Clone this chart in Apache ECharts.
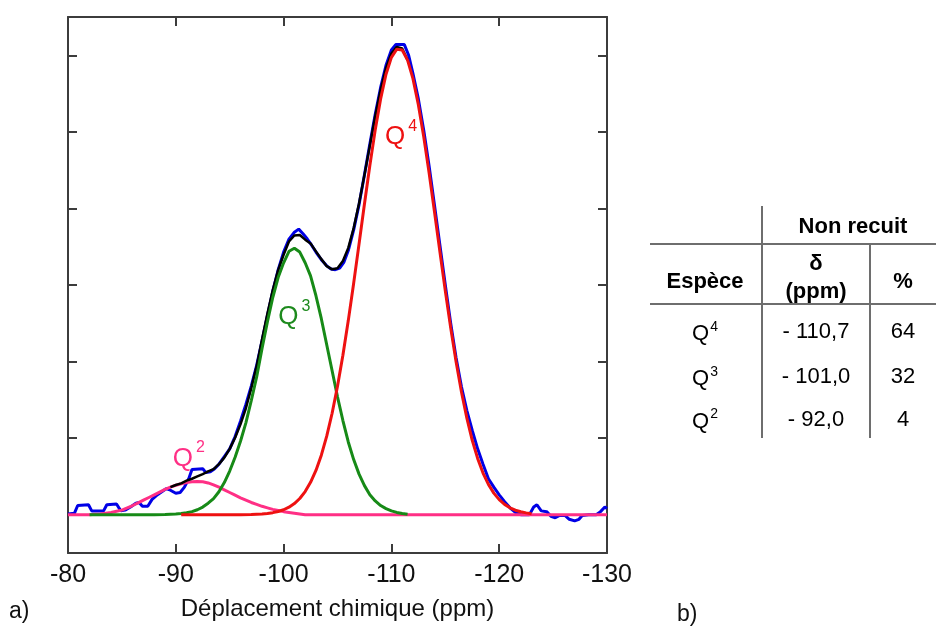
<!DOCTYPE html>
<html><head><meta charset="utf-8">
<script src="https://cdn.jsdelivr.net/npm/echarts@6/dist/echarts.min.js"></script>
<style>html,body{margin:0;padding:0;background:#fff}#c{width:936px;height:626px}</style>
</head><body><div id="c"></div>
<script>
// ---------- data ----------
const xTicks = [-80, -90, -100, -110, -120, -130];
const yTicks = [0, 1, 2, 3, 4, 5, 6];

// experimental spectrum (blue) [ppm, intensity]
const experimental = [
 [-80,0.01],[-80.6,0.02],[-80.9,0.12],[-81.9,0.13],[-82.2,0.05],[-83.3,0.05],[-83.6,0.13],[-84.5,0.14],
 [-84.9,0.05],[-85.3,0.06],[-85.8,0.1],[-86.3,0.15],[-86.6,0.16],[-86.9,0.11],[-87.4,0.11],[-87.8,0.2],
 [-88.2,0.25],[-88.7,0.3],[-89.1,0.34],[-89.5,0.32],[-90.0,0.28],[-90.4,0.29],[-90.8,0.36],[-91.2,0.47],
 [-91.5,0.59],[-92.5,0.6],[-92.8,0.55],[-93.2,0.56],[-93.6,0.6],[-94.0,0.66],[-94.5,0.76],[-95.0,0.86],
 [-95.5,1.02],[-96,1.22],[-96.5,1.44],[-97,1.68],[-97.5,1.95],[-98,2.27],[-98.5,2.6],[-99,2.92],
 [-99.5,3.2],[-100,3.43],[-100.5,3.6],[-101,3.69],[-101.4,3.73],[-101.8,3.67],[-102.2,3.6],[-102.6,3.52],
 [-103,3.43],[-103.5,3.33],[-104,3.25],[-104.4,3.21],[-104.8,3.2],[-105.2,3.22],[-105.6,3.3],[-106,3.45],
 [-106.5,3.72],[-107,4.05],[-107.5,4.44],[-108,4.84],[-108.5,5.23],[-109,5.58],[-109.5,5.87],[-110,6.07],
 [-110.4,6.14],[-111.2,6.14],[-111.6,6.0],[-112,5.76],[-112.5,5.43],[-113,5.02],[-113.5,4.55],[-114,4.04],
 [-114.5,3.52],[-115,3.0],[-115.5,2.5],[-116,2.05],[-116.5,1.67],[-117,1.36],[-117.5,1.1],[-118,0.86],
 [-118.5,0.66],[-119,0.47],[-119.5,0.36],[-120,0.26],[-120.5,0.17],[-121,0.09],[-121.5,0.03],[-122,0.0],
 [-122.8,0.0],[-123.2,0.1],[-123.5,0.13],[-123.9,0.05],[-124.4,0.04],[-124.8,-0.02],[-125.2,-0.04],
 [-125.6,-0.01],[-126.1,-0.01],[-126.5,-0.06],[-127,-0.08],[-127.4,-0.06],[-127.7,-0.01],[-128.3,0.0],
 [-129,0.0],[-129.4,0.04],[-129.8,0.1],[-130,0.08]
];

// total fit (black)
const fitSum = [
 [-89.5,0.36],[-90,0.388],[-90.5,0.41],[-91,0.445],[-91.5,0.47],[-92,0.5],[-92.5,0.53],[-93,0.565],
 [-93.5,0.595],[-94,0.66],[-94.5,0.745],[-95,0.86],[-95.5,1.005],[-96,1.18],[-96.5,1.39],[-97,1.654],
 [-97.5,1.94],[-98,2.29],[-98.5,2.627],[-99,2.937],[-99.5,3.197],[-100,3.395],[-100.5,3.568],[-101,3.646],
 [-101.5,3.652],[-102,3.592],[-102.5,3.543],[-103,3.439],[-103.5,3.338],[-104,3.246],[-104.5,3.205],
 [-105,3.218],[-105.5,3.313],[-106,3.485],[-106.5,3.744],[-107,4.067],[-107.5,4.437],[-108,4.82],
 [-108.5,5.206],[-109,5.55],[-109.5,5.832],[-110,6.023],[-110.5,6.11],[-111,6.088],[-111.5,5.937]
];

// Q4 component (red)
const q4Fit = [
 [-90.5,0],[-96,0],[-97,0.004],[-98,0.01],[-98.5,0.017],[-99,0.027],[-99.5,0.042],[-100,0.065],
 [-100.5,0.098],[-101,0.146],[-101.5,0.212],[-102,0.302],[-102.5,0.423],[-103,0.579],[-103.5,0.778],
 [-104,1.026],[-104.5,1.325],[-105,1.678],[-105.5,2.083],[-106,2.535],[-106.5,3.024],[-107,3.537],
 [-107.5,4.057],[-108,4.56],[-108.5,5.026],[-109,5.43],[-109.5,5.752],[-110,5.973],[-110.5,6.08],
 [-111,6.068],[-111.5,5.937],[-112,5.695],[-112.5,5.355],[-113,4.937],[-113.5,4.461],[-114,3.953],
 [-114.5,3.434],[-115,2.924],[-115.5,2.441],[-116,1.997],[-116.5,1.603],[-117,1.261],[-117.5,0.972],
 [-118,0.735],[-118.5,0.544],[-119,0.396],[-119.5,0.282],[-120,0.197],[-120.5,0.135],[-121,0.09],
 [-121.5,0.059],[-122,0.038],[-122.5,0.024],[-123,0.012]
];

// Q3 component (green)
const q3Fit = [
 [-82,0],[-88,0],[-89,0.003],[-90,0.008],[-90.5,0.015],[-91,0.025],[-91.5,0.04],[-92,0.065],[-92.5,0.10],
 [-93,0.15],[-93.5,0.21],[-94,0.30],[-94.5,0.42],[-95,0.57],[-95.5,0.75],[-96,0.96],[-96.5,1.20],
 [-97,1.49],[-97.5,1.80],[-98,2.17],[-98.5,2.52],[-99,2.84],[-99.5,3.10],[-100,3.29],[-100.5,3.44],
 [-101,3.48],[-101.5,3.43],[-102,3.29],[-102.5,3.12],[-103,2.86],[-103.5,2.56],[-104,2.22],[-104.5,1.88],
 [-105,1.54],[-105.5,1.23],[-106,0.95],[-106.5,0.72],[-107,0.53],[-107.5,0.38],[-108,0.26],[-108.5,0.18],
 [-109,0.12],[-109.5,0.08],[-110,0.05],[-110.5,0.03],[-111,0.015],[-111.5,0.005]
];

// Q2 component (pink)
const q2Fit = [
 [-80,0],[-82,0],[-82.5,0.005],[-83,0.01],[-83.5,0.02],[-84,0.03],[-84.5,0.045],[-85,0.06],[-85.5,0.09],
 [-86,0.12],[-86.5,0.155],[-87,0.19],[-87.5,0.225],[-88,0.26],[-88.5,0.295],[-89,0.33],[-89.5,0.36],
 [-90,0.385],[-90.5,0.405],[-91,0.42],[-91.5,0.43],[-92,0.435],[-92.5,0.43],[-93,0.415],[-93.5,0.39],
 [-94,0.36],[-94.5,0.325],[-95,0.29],[-95.5,0.255],[-96,0.22],[-96.5,0.19],[-97,0.16],[-97.5,0.135],
 [-98,0.11],[-98.5,0.09],[-99,0.07],[-99.5,0.055],[-100,0.04],[-100.5,0.03],[-101,0.02],[-101.5,0.01],
 [-102,0],[-130,0]
];

// component labels
const peakNames = ['Q', 'Q', 'Q'];
const peakSup = ['4', '3', '2'];

// table content
const tableGroupHeader = 'Non recuit';
const tableHeaders = ['Espèce', 'δ', '(ppm)', '%'];
const tableSpecies = ['Q', 'Q', 'Q'];
const tableSpeciesSup = ['4', '3', '2'];
const tableDelta = ['- 110,7', '- 101,0', '- 92,0'];
const tablePercent = ['64', '32', '4'];
const panelTags = ['a)', 'b)'];

// ---------- styling / layout ----------
const FONT = "'Liberation Sans', Arial, sans-serif";
const AX = '#3c3c3c';
const C_BLUE = '#0000e6', C_BLACK = '#000000', C_RED = '#ee1111', C_GREEN = '#178a17', C_PINK = '#ff2f85';
const labelPos = [[-110.9, 4.97], [-101.0, 2.62], [-91.2, 0.77]];
const labelCol = [C_RED, '#1d8a1d', C_PINK];

function mk(i) {
  return {
    symbol: 'circle', symbolSize: 2, silent: true, animation: false,
    itemStyle: { color: 'rgba(0,0,0,0)' },
    data: [{ coord: labelPos[i], value: 0 }],
    label: {
      show: true, position: 'inside',
      formatter: '{q|' + peakNames[i] + '}{s|' + peakSup[i] + '}',
      rich: {
        q: { fontSize: 26, fontFamily: FONT, color: labelCol[i], verticalAlign: 'bottom', lineHeight: 32 },
        s: { fontSize: 16, fontFamily: FONT, color: labelCol[i], verticalAlign: 'top', padding: [0, 0, 0, 3], lineHeight: 32 }
      }
    }
  };
}

function lineSeries(data, color, width, extra) {
  return Object.assign({
    type: 'line', data: data, symbol: 'none', showSymbol: false, silent: true,
    lineStyle: { color: color, width: width }, itemStyle: { color: color },
    animation: false, z: 2
  }, extra || {});
}

const axisCommon = {
  type: 'value', min: -130, max: -80, interval: 10, inverse: true,
  splitLine: { show: false },
  axisLine: { show: true, onZero: false, lineStyle: { color: AX, width: 2 } },
  axisTick: { show: true, inside: true, length: 9, lineStyle: { color: AX, width: 2 } }
};
const yCommon = {
  type: 'value', min: -0.5, max: 6.5,
  splitLine: { show: false },
  axisLine: { show: true, onZero: false, lineStyle: { color: AX, width: 2 } },
  axisTick: { show: true, inside: true, length: 9, customValues: yTicks, lineStyle: { color: AX, width: 2 } },
  axisLabel: { show: false }
};

// table graphics
const g = [];
function txt(x, y, s, bold, size) {
  g.push({ type: 'text', x: x, y: y, silent: true,
    style: { text: s, fill: '#000', fontSize: size, fontWeight: bold ? 'bold' : 'normal',
      fontFamily: FONT, align: 'center', verticalAlign: 'middle' } });
}
function supTxt(x, y, base, sup) {
  g.push({ type: 'text', x: x, y: y, silent: true,
    style: { text: '{q|' + base + '}{s|' + sup + '}', align: 'center', verticalAlign: 'middle',
      rich: {
        q: { fontSize: 22, fontFamily: FONT, fill: '#000', verticalAlign: 'bottom', lineHeight: 26 },
        s: { fontSize: 14, fontFamily: FONT, fill: '#000', verticalAlign: 'top', lineHeight: 26, padding: [1, 0, 0, 1] }
      } } });
}
function ln(x1, y1, x2, y2) {
  g.push({ type: 'line', silent: true, shape: { x1: x1, y1: y1, x2: x2, y2: y2 },
    style: { stroke: '#6e6e6e', lineWidth: 2 } });
}
const colX = [705, 816, 903];
const rowY = [332, 377, 419.5];
ln(762, 206, 762, 438);
ln(870, 245, 870, 438);
ln(650, 244, 936, 244);
ln(650, 304, 936, 304);
txt(853, 227, tableGroupHeader, true, 22);
txt(colX[0], 282, tableHeaders[0], true, 22);
txt(colX[1], 264, tableHeaders[1], true, 22);
txt(colX[1], 292, tableHeaders[2], true, 22);
txt(colX[2], 282, tableHeaders[3], true, 22);
for (let i = 0; i < tableSpecies.length; i++) {
  supTxt(colX[0], rowY[i], tableSpecies[i], tableSpeciesSup[i]);
  txt(colX[1], rowY[i], tableDelta[i], false, 22);
  txt(colX[2], rowY[i], tablePercent[i], false, 22);
}
g.push({ type: 'text', x: 9, y: 612, silent: true, style: { text: panelTags[0], fill: '#111', fontSize: 23, fontFamily: FONT, align: 'left', verticalAlign: 'middle' } });
g.push({ type: 'text', x: 677, y: 615, silent: true, style: { text: panelTags[1], fill: '#111', fontSize: 23, fontFamily: FONT, align: 'left', verticalAlign: 'middle' } });

const chart = echarts.init(document.getElementById('c'), null, { renderer: 'canvas' });
chart.setOption({
  backgroundColor: '#ffffff',
  animation: false,
  grid: { left: 68, top: 17, width: 539, height: 536, containLabel: false },
  xAxis: [
    Object.assign({}, axisCommon, {
      position: 'bottom',
      axisLabel: { show: true, fontSize: 25, fontFamily: FONT, color: '#111', margin: 10,
        customValues: xTicks },
      name: 'Déplacement chimique (ppm)', nameLocation: 'middle', nameGap: 44,
      nameTextStyle: { fontSize: 24, fontFamily: FONT, color: '#111' }
    }),
    Object.assign({}, axisCommon, { position: 'top', axisLabel: { show: false } })
  ],
  yAxis: [
    Object.assign({}, yCommon, { position: 'left' }),
    Object.assign({}, yCommon, { position: 'right' })
  ],
  series: [
    lineSeries(experimental, C_BLUE, 3, { z: 2 }),
    lineSeries(q2Fit, C_PINK, 3, { z: 3, markPoint: mk(2) }),
    lineSeries(fitSum, C_BLACK, 2.5, { z: 4 }),
    lineSeries(q3Fit, C_GREEN, 3, { z: 5, markPoint: mk(1) }),
    lineSeries(q4Fit, C_RED, 3, { z: 6, markPoint: mk(0) })
  ],
  graphic: g
});
</script>
</body></html>
